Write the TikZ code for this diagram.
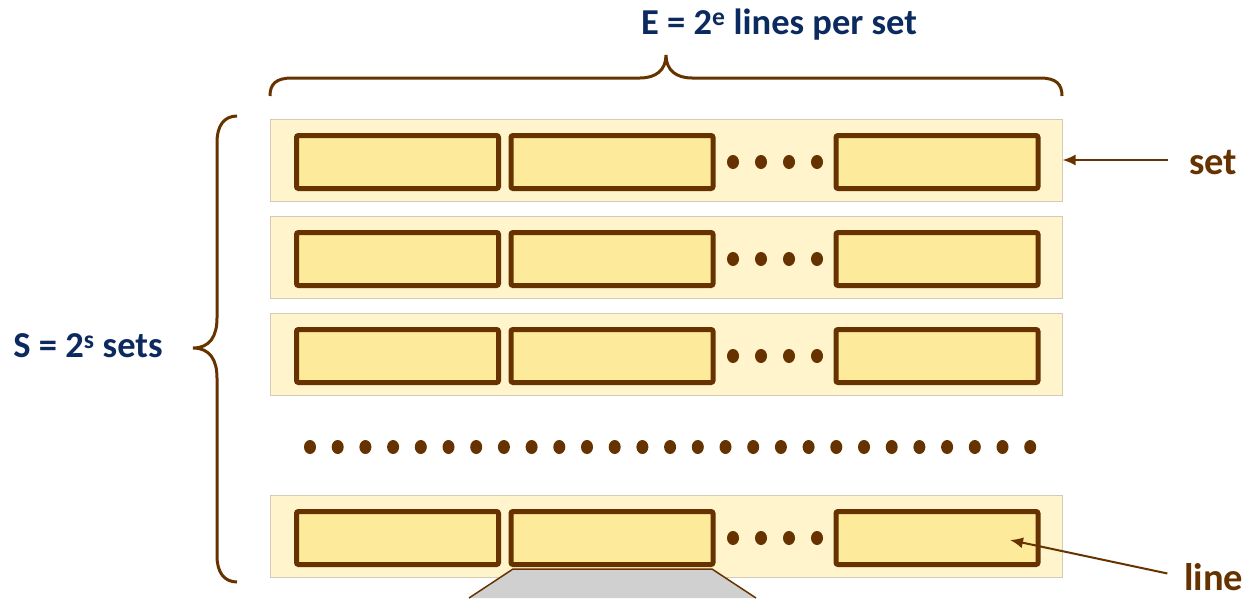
\documentclass[tikz,border=0pt]{standalone}
\usepackage{fontspec}
\setmainfont{Carlito}
\usetikzlibrary{arrows.meta}
\definecolor{brn}{HTML}{663300}
\definecolor{navy}{HTML}{0B2A5F}
\definecolor{rowfill}{HTML}{FFF4CC}
\definecolor{rowedge}{HTML}{D3CBB5}
\definecolor{cellfill}{HTML}{FDEA9B}
\definecolor{trapfill}{HTML}{D0D0D0}
\begin{document}
\begin{tikzpicture}[x=1pt,y=-1pt,
  rowbox/.style={draw=rowedge, line width=1pt, fill=rowfill,
    minimum width=792pt, minimum height=82pt, inner sep=0pt},
  cell/.style={draw=brn, line width=5pt, fill=cellfill, rounded corners=2pt,
    minimum width=202pt, minimum height=53pt, inner sep=0pt},
  bracepen/.style={draw=brn, line width=3pt},
  arr/.style={draw=brn, line width=2pt, -{Latex[length=13pt,width=11pt]}},
  navylbl/.style={text=navy, inner sep=0pt, font=\bfseries\fontsize{36.5}{42}\selectfont},
  brnlbl/.style={text=brn, inner sep=0pt, font=\bfseries\fontsize{38.5}{44}\selectfont}]
\useasboundingbox (0,0) rectangle (1247,598);

% sets (rows) and their lines (cells)
\foreach \r/\y in {1/160, 2/257, 3/354, 5/536} {
  \node[rowbox] (row\r) at (666,\y) {};
}
% tag connecting the lower set to what follows below
\fill[trapfill] (469,598) -- (513,569) -- (712,569) -- (756,598) -- cycle;
\draw[brn, line width=1.5pt] (469,598) -- (513,569) -- (712,569) -- (756,598);

\foreach \r/\y in {1/160, 2/257, 3/354, 5/536} {
  \node[cell] (c\r a) at (397.5,\y+2) {};
  \node[cell] (c\r b) at (612,\y+2) {};
  \node[cell] (c\r c) at (937,\y+2) {};
  \foreach \dx in {733,761,789,817}
    \fill[brn] (\dx,\y+2) ellipse [x radius=6, y radius=7];
}

% elided sets
\foreach \i in {0,...,26}
  \fill[brn] (310+\i*27.7,447) ellipse [x radius=6, y radius=7];

% braces
\draw[bracepen] (270,96) .. controls (270,84) and (276,78) .. (292,78)
  -- (640,78) .. controls (656,78) and (666,70) .. (666,55)
  .. controls (666,70) and (676,78) .. (692,78)
  -- (1040,78) .. controls (1056,78) and (1062,84) .. (1062,96);
\draw[bracepen] (237,116) .. controls (224,116) and (217,126) .. (217,142)
  -- (217,318) .. controls (217,336) and (210,348) .. (193,348)
  .. controls (210,348) and (217,360) .. (217,378)
  -- (217,556) .. controls (217,572) and (224,582) .. (237,582);

% labels
\node[navylbl] (etitle) at (779,25) {E = 2\textsuperscript{e} lines per set};
\node[navylbl] (stitle) at (88,346) {S = 2\textsuperscript{s} sets};
\node[brnlbl, anchor=west] (setlbl) at (1189,162) {set};
\node[brnlbl, anchor=west] (lnlbl) at (1184,577) {line};

% pointers
\coordinate (linetip) at (1010,540);
\draw[arr, shorten <=21pt] (setlbl.west |- row1.east) -- (row1.east);
\draw[arr, shorten <=17pt] (lnlbl.west) -- (linetip);
\end{tikzpicture}
\end{document}
